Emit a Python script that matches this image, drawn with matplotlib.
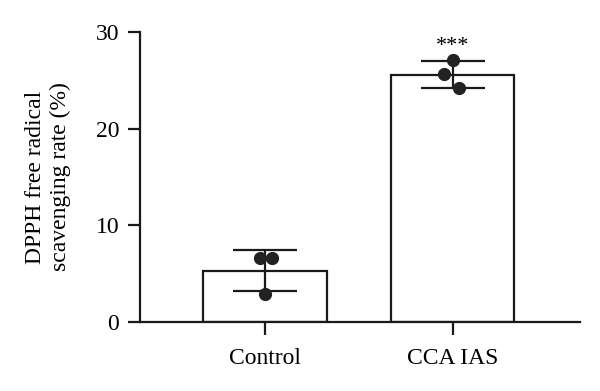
import numpy as np
import matplotlib
matplotlib.use("Agg")
import matplotlib.pyplot as plt

plt.rcParams['font.family'] = ['Liberation Serif', 'DejaVu Serif']

groups = ["Control", "CCA IAS"]
means = [5.3, 25.6]
sds = [2.1, 1.4]
control_pts = [6.6, 6.6, 2.9]
cca_pts = [27.1, 25.7, 24.2]
jitter = [[-0.03, 0.035, 0.0], [0.0, -0.045, 0.035]]
stars = ["", "***"]

fig = plt.figure(figsize=(6, 3.91), dpi=100)
ax = fig.add_axes([0.2333, 0.1765, 0.7334, 0.7415])

x = np.arange(len(groups))
ax.bar(x, means, width=0.66, color="white", edgecolor="#1a1a1a", linewidth=1.6, zorder=1)
ax.errorbar(x, means, yerr=sds, fmt="none", ecolor="#1a1a1a", elinewidth=1.6,
            capsize=23, capthick=1.6, zorder=2)

for i, pts in enumerate([control_pts, cca_pts]):
    ax.plot(x[i] + np.array(jitter[i]), pts, "o", color="#222222", markersize=8.5, zorder=3)
    if stars[i]:
        ax.text(x[i], means[i] + sds[i] + 0.5, stars[i], ha="center", va="bottom",
                fontsize=16, clip_on=False)

ax.set_xlim(-0.668, 1.68)
ax.set_ylim(0, 30)
ax.set_yticks([0, 10, 20, 30])
ax.set_xticks(x)
ax.set_xticklabels(groups)
ax.spines["top"].set_visible(False)
ax.spines["right"].set_visible(False)
for s in ["left", "bottom"]:
    ax.spines[s].set_linewidth(1.6)
    ax.spines[s].set_color("#1a1a1a")
ax.tick_params(axis="both", length=9, width=1.6, labelsize=17, color="#1a1a1a")
ax.tick_params(axis="y", pad=6)
ax.tick_params(axis="x", pad=10)
ax.set_ylabel("DPPH free radical\nscavenging rate (%)", fontsize=17, labelpad=18,
              linespacing=1.2)

fig.savefig("out.png", dpi=100)
